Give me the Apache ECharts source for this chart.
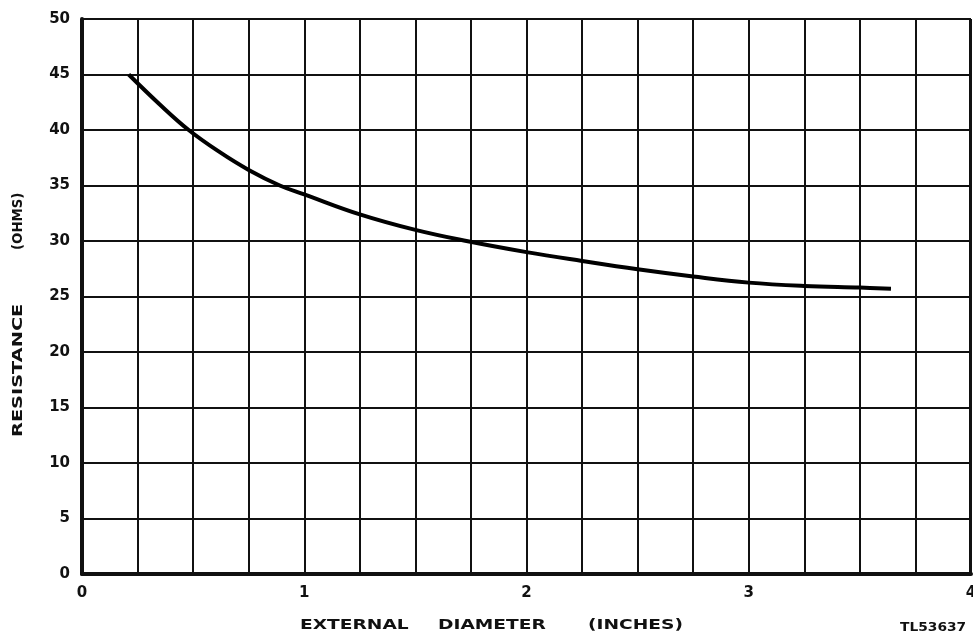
<!DOCTYPE html>
<html>
<head>
<meta charset="utf-8">
<script src="https://cdn.jsdelivr.net/npm/echarts@6/dist/echarts.min.js"></script>
<style>html,body{margin:0;padding:0;background:#fff;}#c{width:973px;height:644px;}</style>
</head>
<body>
<div id="c"></div>
<script>
var diameters = [0.21, 0.35, 0.48, 0.62, 0.75, 0.89, 1.0, 1.25, 1.5, 1.73, 2.0, 2.25, 2.5, 2.75, 3.0, 3.25, 3.5, 3.64];
var resistance = [45.0, 42.3, 40.0, 38.0, 36.4, 35.0, 34.2, 32.4, 31.0, 30.0, 29.0, 28.2, 27.45, 26.8, 26.25, 25.95, 25.8, 25.7];
var xTickLabels = ['0', '1', '2', '3', '4'];
var yTickLabels = ['0', '5', '10', '15', '20', '25', '30', '35', '40', '45', '50'];
var xNameWords = ['EXTERNAL', 'DIAMETER', '(INCHES)'];
var yNameWords = ['RESISTANCE', '(OHMS)'];
var figureCode = 'TL53637';

var chart = echarts.init(document.getElementById('c'));
var labelFont = {color: '#111', fontFamily: 'DejaVu Sans', fontWeight: 'bold', fontSize: 15};
var nameFont = 'bold 14px "DejaVu Sans"';
chart.setOption({
  animation: false,
  backgroundColor: '#fff',
  grid: {left: 82, right: 2, top: 19, bottom: 70, show: false, containLabel: false, outerBoundsMode: 'none'},
  xAxis: {
    type: 'value', min: 0, max: 4, interval: 0.25,
    axisLine: {show: true, onZero: false, lineStyle: {color: '#111', width: 4}},
    axisTick: {show: false},
    splitLine: {show: true, lineStyle: {color: '#111', width: 2}},
    axisLabel: Object.assign({margin: 12, formatter: function (v) {
      var i = Math.round(v);
      return Math.abs(v - i) < 1e-6 ? xTickLabels[i] : '';
    }}, labelFont)
  },
  yAxis: {
    type: 'value', min: 0, max: 50, interval: 5,
    axisLine: {show: true, lineStyle: {color: '#111', width: 4}},
    axisTick: {show: false},
    splitLine: {show: true, lineStyle: {color: '#111', width: 2}},
    axisLabel: Object.assign({margin: 12, formatter: function (v) {
      return yTickLabels[Math.round(v / 5)];
    }}, labelFont)
  },
  graphic: [
    {type: 'rect', shape: {x: 82, y: 18, width: 889, height: 2}, style: {fill: '#111'}},
    {type: 'rect', shape: {x: 969, y: 18, width: 2, height: 557}, style: {fill: '#111'}},
    {type: 'text', x: 300, y: 625, scaleX: 1.33, style: {text: xNameWords[0], fill: '#111', font: nameFont, textVerticalAlign: 'middle'}},
    {type: 'text', x: 438, y: 625, scaleX: 1.33, style: {text: xNameWords[1], fill: '#111', font: nameFont, textVerticalAlign: 'middle'}},
    {type: 'text', x: 588, y: 625, scaleX: 1.33, style: {text: xNameWords[2], fill: '#111', font: nameFont, textVerticalAlign: 'middle'}},
    {type: 'text', x: 18, y: 437, rotation: Math.PI / 2, scaleX: 1.38, style: {text: yNameWords[0], fill: '#111', font: nameFont, textAlign: 'left', textVerticalAlign: 'middle'}},
    {type: 'text', x: 18, y: 250, rotation: Math.PI / 2, scaleX: 0.95, style: {text: yNameWords[1], fill: '#111', font: nameFont, textAlign: 'left', textVerticalAlign: 'middle'}},
    {type: 'text', x: 900, y: 628, scaleX: 1.15, style: {text: figureCode, fill: '#111', font: 'bold 12px "DejaVu Sans"', textVerticalAlign: 'middle'}}
  ],
  series: [{
    type: 'line', smooth: 0.4, symbol: 'none',
    data: diameters.map(function (d, i) { return [d, resistance[i]]; }),
    lineStyle: {color: '#000', width: 4}
  }]
});
</script>
</body>
</html>
